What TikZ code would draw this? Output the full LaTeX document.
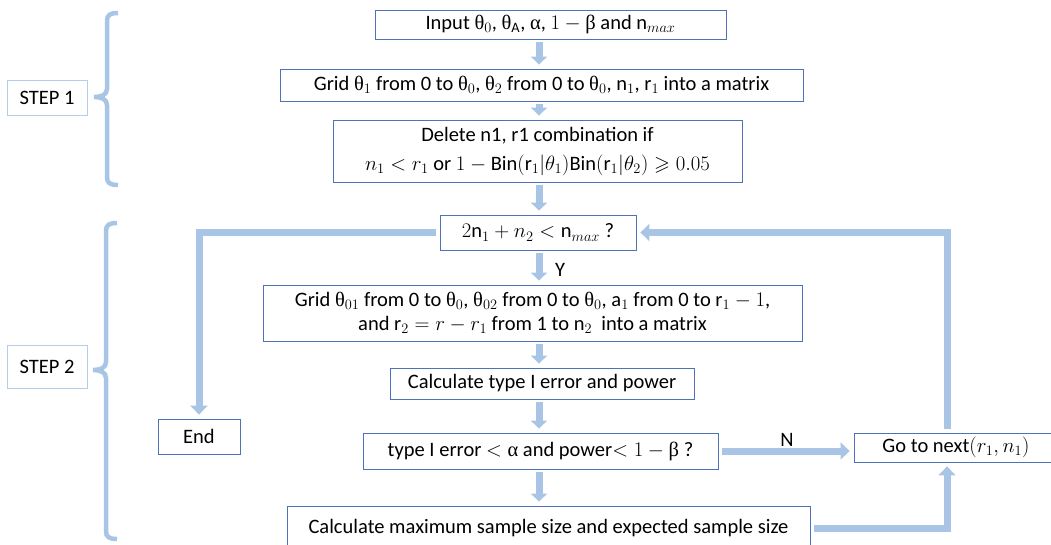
\documentclass[tikz,border=0pt]{standalone}
\usepackage{amsmath,amssymb}
\usepackage{fontspec}
\setmainfont{Carlito}
\newfontfamily\grk{Liberation Serif}
\usetikzlibrary{arrows.meta}
\definecolor{arr}{HTML}{A9C5E6}
\definecolor{bdr}{HTML}{4F71B8}
\definecolor{sbd}{HTML}{B4CDEB}
\newcommand\ut{\mbox{\grk θ}}
\newcommand\ua{\mbox{\grk α}}
\newcommand\ub{\mbox{\grk β}}
\begin{document}
\begin{tikzpicture}[x=1pt,y=-1pt,
  box/.style={draw=bdr, line width=0.8pt, fill=white, inner sep=0pt, align=center, font=\fontsize{20.5}{24}\selectfont},
  sbox/.style={box, draw=sbd},
  sarr/.style={draw=arr, line width=7pt, -{Triangle[width=16pt,length=8pt]}, shorten <=3pt, shorten >=4pt},
  larr/.style={draw=arr, line width=7pt, -{Triangle[width=17pt,length=9pt]}, shorten <=4pt, shorten >=4pt},
  brace/.style={draw=arr, line width=4.5pt, line cap=butt},
  lab/.style={font=\fontsize{20.5}{24}\selectfont}]
\useasboundingbox (0,0) rectangle (1051,544);
\clip (0,0) rectangle (1051,544);
% nodes
\node[box, minimum width=351pt, minimum height=29pt] (in) at (550.5,24.5)
  {Input $\ut_0$, $\ut_{\mathrm{A}}$, \ua, $1-\ub$ and $\mathrm{n}_{max}$};
\node[box, minimum width=523pt, minimum height=32pt] (g1) at (541.5,85)
  {Grid $\ut_1$ from 0 to $\ut_0$, $\ut_2$ from 0 to $\ut_0$, $\mathrm{n}_1$, $\mathrm{r}_1$ into a matrix};
\node[box, minimum width=409pt, minimum height=62pt] (del) at (537.5,151)
  {Delete n1, r1 combination if\\[5pt]
   $n_1<r_1$ or $1-\mathrm{Bin}(\mathrm{r}_1|\theta_1)\mathrm{Bin}(\mathrm{r}_1|\theta_2)\geqslant 0.05$};
\node[box, minimum width=196pt, minimum height=35pt] (cond) at (538,232.5)
  {$2\mathrm{n}_1+n_2<\mathrm{n}_{max}$ ?};
\node[box, minimum width=539pt, minimum height=56pt] (g2) at (532.5,313)
  {Grid $\ut_{01}$ from 0 to $\ut_0$, $\ut_{02}$ from 0 to $\ut_0$, $\mathrm{a}_1$ from 0 to $\mathrm{r}_1-1$,\\
   and $\mathrm{r}_2=r-r_1$ from 1 to $\mathrm{n}_2$\ \ into a matrix};
\node[box, minimum width=304pt, minimum height=31pt] (calc) at (542,383.5)
  {Calculate type I error and power};
\node[box, minimum width=355pt, minimum height=36pt] (cond2) at (540.5,451)
  {type I error $<\ua$ and power$<1-\ub$ ?};
\node[box, minimum width=523pt, minimum height=44pt] (cmax) at (548.5,528)
  {Calculate maximum sample size and expected sample size};
\node[box, minimum width=204pt, minimum height=29pt] (next) at (956,447.5)
  {Go to next$(r_1,n_1)$};
\node[box, minimum width=82pt, minimum height=35pt] (end) at (199,436.5) {End};
\node[sbox, minimum width=80pt, minimum height=35pt] (s1) at (47,97.5) {STEP 1};
\node[sbox, minimum width=80pt, minimum height=43pt] (s2) at (47,366.5) {STEP 2};
% guide coordinates
\coordinate (ax) at (539,0);
\coordinate (rx) at (947,0);
% short arrows
\draw[sarr] (in.south -| ax) -- (g1.north -| ax);
\draw[sarr] (g1.south -| ax) -- (del.north -| ax);
\draw[sarr] (del.south -| ax) -- (cond.north -| ax);
\draw[sarr] (cond.south -| ax) -- (g2.north -| ax);
\draw[sarr] (g2.south -| ax) -- (calc.north -| ax);
\draw[sarr] (calc.south -| ax) -- (cond2.north -| ax);
\draw[sarr] (cond2.south -| ax) -- (cmax.north -| ax);
% long connectors
\draw[larr] (cond.west) -| (end.north);
\draw[larr] (next.north -| rx) |- (cond.east);
\draw[larr] (cond2.east) -- (cond2.east -| next.west);
\draw[larr] (cmax.east) -| (next.south -| rx);
% labels
\node[lab] (ylab) at (560,270) {Y};
\node[lab] (nlab) at (787,440) {N};
% braces
\draw[brace] (118,13) .. controls (110,13) and (107,15) .. (107,21) -- (107,89)
  .. controls (107,95) and (101,97) .. (94,97)
  .. controls (101,97) and (107,99) .. (107,105) -- (107,177)
  .. controls (107,183) and (110,185) .. (118,185);
\draw[brace] (117,223) .. controls (109,223) and (106,225) .. (106,231) -- (106,362)
  .. controls (106,368) and (100,370) .. (93,370)
  .. controls (100,370) and (106,372) .. (106,378) -- (106,531)
  .. controls (106,537) and (109,539) .. (117,539);
\end{tikzpicture}
\end{document}
